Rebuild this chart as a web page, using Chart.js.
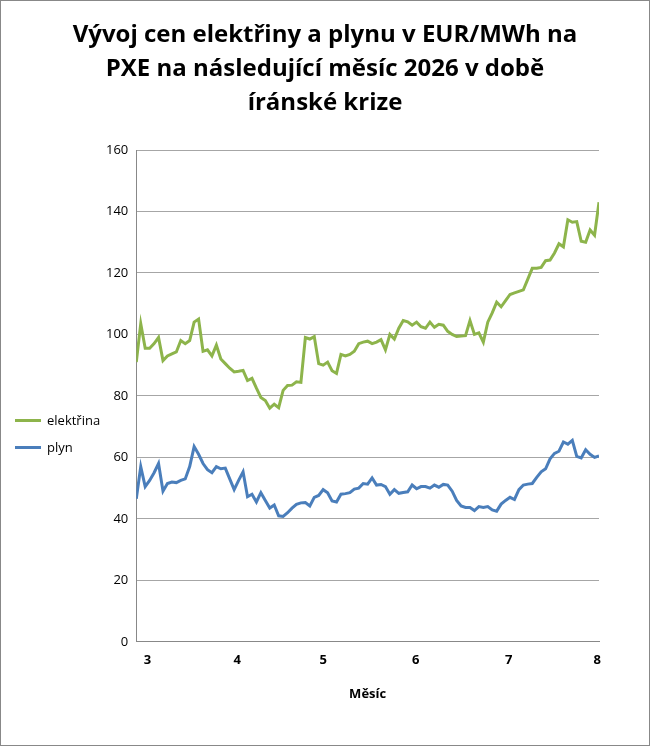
<!DOCTYPE html>
<html>
<head>
<meta charset="utf-8">
<script src="https://cdn.jsdelivr.net/npm/chart.js@4"></script>
<style>
    html, body { margin: 0; padding: 0; background: #fff; }
    #wrap { position: relative; width: 648px; height: 744px; border: 1px solid #888; font-family: 'Open Sans', sans-serif; }
    #chart { position: absolute; left: 0; top: 0; }
    #title { position: absolute; left: 0; top: 15px; width: 648px; text-align: center; font-size: 24px; font-weight: bold; line-height: 34px; color: #000; }
    .leg { position: absolute; left: 14px; font-size: 13px; color: #000; display: flex; align-items: center; }
    .leg span { display: inline-block; width: 26px; height: 3px; margin-right: 6px; }
</style>
</head>
<body>
<div id="wrap">
    <canvas id="chart" width="648" height="744"></canvas>
    <div id="title">Vývoj cen elektřiny a plynu v EUR/MWh na<br>PXE na následující měsíc 2026 v době<br>íránské krize</div>
    <div class="leg" style="top:410px"><span style="background:#8db44b"></span>elektřina</div>
    <div class="leg" style="top:437px"><span style="background:#4a7ebb"></span>plyn</div>
</div>
<script>
// month labels and the trading-day index where each month starts
const monthLabels = ['3', '4', '5', '6', '7', '8'];
const monthPositions = [2.5, 22.7, 42, 62.8, 83.7, 103.6];

const elektrina = [
    91, 103.5, 95.5, 95.5, 97, 99, 91.5, 93, 93.7, 94.3,
    98, 97, 98, 104, 105, 94.5, 95, 93, 96.5, 92,
    90.5, 89, 87.8, 88, 88.3, 85, 85.7, 82.5, 79.5, 78.5,
    76, 77.3, 76.2, 81.8, 83.4, 83.5, 84.6, 84.4, 99, 98.5,
    99.3, 90.5, 90, 91, 88.2, 87.3, 93.5, 93, 93.5, 94.5,
    97, 97.5, 97.8, 97, 97.5, 98.3, 95, 100, 98.5, 102,
    104.5, 104.1, 103, 104, 102.5, 102, 104, 102.3, 103.3, 103,
    101, 100, 99.3, 99.5, 99.6, 104.5, 100, 100.5, 97.5, 104,
    107, 110.5, 109, 111, 113, 113.5, 114, 114.5, 118, 121.5,
    121.5, 121.8, 124, 124.2, 126.5, 129.5, 128.5, 137.3, 136.5, 136.7,
    130.3, 130, 134, 132.3, 143
];

const plyn = [
    46.5, 57, 50.5, 52.5, 55, 58, 49, 51.5, 52, 51.8,
    52.5, 53, 57, 63.5, 61, 58, 56, 55, 57, 56.3,
    56.5, 53, 49.5, 52.5, 55.3, 47.2, 48, 45.5, 48.5, 46,
    43.5, 44.5, 41, 40.8, 42, 43.5, 44.7, 45.2, 45.3, 44.2,
    47, 47.6, 49.5, 48.5, 45.8, 45.5, 48, 48.2, 48.5, 49.7,
    50, 51.5, 51.3, 53.3, 51, 51.2, 50.5, 48, 49.5, 48.3,
    48.6, 48.8, 51, 49.8, 50.5, 50.5, 50, 51, 50.3, 51.2,
    51, 49, 46, 44.2, 43.7, 43.7, 42.7, 44, 43.7, 44,
    42.9, 42.5, 44.8, 46, 47, 46.3, 49.5, 51, 51.3, 51.5,
    53.5, 55.3, 56.3, 59.5, 61.3, 62, 65, 64.3, 65.5, 60.3,
    59.8, 62.5, 61, 60, 60.5
];

const yTicks = [0, 20, 40, 60, 80, 100, 120, 140, 160];

function toPoints(values) {
    return values.map((v, i) => ({ x: i, y: v }));
}

new Chart(document.getElementById('chart'), {
    type: 'line',
    data: {
        datasets: [
            { label: 'elektřina', data: toPoints(elektrina), borderColor: '#8db44b', borderWidth: 3, pointRadius: 0, tension: 0 },
            { label: 'plyn', data: toPoints(plyn), borderColor: '#4a7ebb', borderWidth: 3, pointRadius: 0, tension: 0 }
        ]
    },
    options: {
        responsive: false,
        animation: false,
        layout: { padding: { top: 149, right: 50, bottom: 39, left: 97 } },
        plugins: {
            title: { display: false },
            legend: { display: false },
            tooltip: { enabled: false }
        },
        scales: {
            x: {
                type: 'linear',
                min: 0,
                max: elektrina.length - 1,
                afterBuildTicks: axis => { axis.ticks = monthPositions.map(v => ({ value: v })); },
                ticks: {
                    callback: (v, i) => monthLabels[i],
                    autoSkip: false,
                    maxRotation: 0,
                    font: { family: 'Open Sans', size: 13, weight: 'bold' },
                    color: '#000'
                },
                grid: { display: false },
                border: { color: '#888' },
                title: { display: true, text: 'Měsíc', font: { family: 'Open Sans', size: 13, weight: 'bold' }, color: '#000', padding: { top: 15 } }
            },
            y: {
                min: 0,
                max: 160,
                afterBuildTicks: axis => { axis.ticks = yTicks.map(v => ({ value: v })); },
                ticks: { font: { family: 'Open Sans', size: 13 }, color: '#000', padding: 8 },
                grid: { color: '#a6a6a6', drawTicks: false },
                border: { color: '#888' }
            }
        }
    }
});
</script>
</body>
</html>
